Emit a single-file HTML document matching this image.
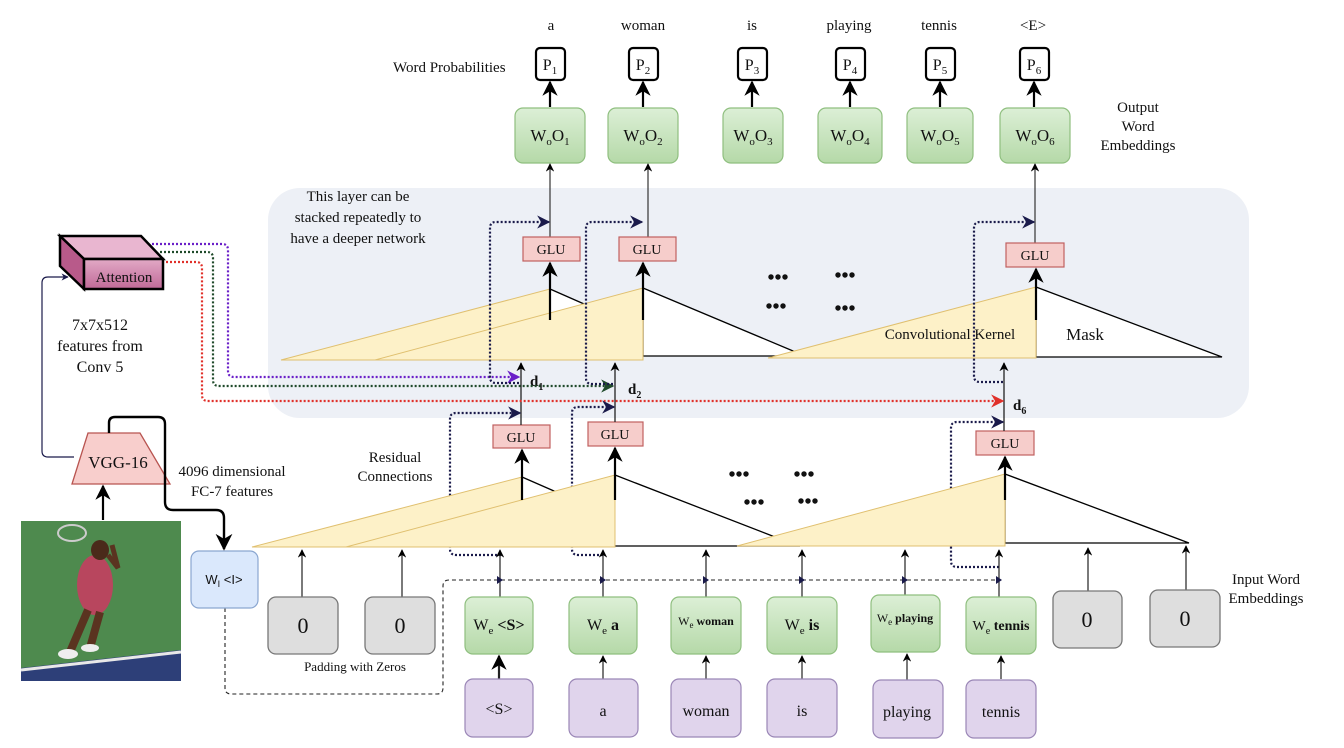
<!DOCTYPE html>
<html><head><meta charset="utf-8"><style>
html,body{margin:0;padding:0;background:#fff}
svg{display:block}
text{font-family:"Liberation Serif",serif;fill:#111}
</style></head><body>
<svg width="1344" height="748" viewBox="0 0 1344 748" xmlns="http://www.w3.org/2000/svg">
<defs>
<marker id="ab" viewBox="0 0 10 10" refX="9" refY="5" markerWidth="7" markerHeight="7" orient="auto"><path d="M0,0 L10,5 L0,10 L3,5 z" fill="#000"/></marker>
<marker id="an" viewBox="0 0 10 10" refX="9" refY="5" markerWidth="6" markerHeight="6" orient="auto"><path d="M0,0 L10,5 L0,10 L3,5 z" fill="#1a1a4a"/></marker>
<marker id="ap" viewBox="0 0 10 10" refX="9" refY="5" markerWidth="6" markerHeight="6" orient="auto"><path d="M0,0 L10,5 L0,10 L3,5 z" fill="#6a1fc8"/></marker>
<marker id="ag" viewBox="0 0 10 10" refX="9" refY="5" markerWidth="6" markerHeight="6" orient="auto"><path d="M0,0 L10,5 L0,10 L3,5 z" fill="#1f4a2a"/></marker>
<marker id="ar" viewBox="0 0 10 10" refX="9" refY="5" markerWidth="6" markerHeight="6" orient="auto"><path d="M0,0 L10,5 L0,10 L3,5 z" fill="#e0302a"/></marker>
<linearGradient id="gg" x1="0" y1="0" x2="0" y2="1"><stop offset="0" stop-color="#dcefd6"/><stop offset="1" stop-color="#b5d9a8"/></linearGradient>
<linearGradient id="gm" x1="0" y1="0" x2="0" y2="1"><stop offset="0" stop-color="#e2a9c6"/><stop offset="1" stop-color="#c06a98"/></linearGradient>
</defs>

<rect x="268" y="188" width="981" height="230" rx="32" fill="#edf0f6"/>

<g font-size="15" text-anchor="middle">
<text x="551" y="30">a</text><text x="643" y="30">woman</text><text x="752" y="30">is</text>
<text x="849" y="30">playing</text><text x="939" y="30">tennis</text><text x="1033" y="30">&lt;E&gt;</text>
</g>
<text x="393" y="72" font-size="15">Word Probabilities</text>
<g fill="#fff" stroke="#000" stroke-width="2.2">
<rect x="536" y="48" width="29" height="32" rx="4"/><rect x="629" y="48" width="29" height="32" rx="4"/>
<rect x="738" y="48" width="29" height="32" rx="4"/><rect x="836" y="48" width="29" height="32" rx="4"/>
<rect x="926" y="48" width="29" height="32" rx="4"/><rect x="1020" y="48" width="29" height="32" rx="4"/>
</g>
<g font-size="16" text-anchor="middle">
<text x="550" y="70">P<tspan font-size="11" dy="4">1</tspan></text><text x="643" y="70">P<tspan font-size="11" dy="4">2</tspan></text>
<text x="752" y="70">P<tspan font-size="11" dy="4">3</tspan></text><text x="850" y="70">P<tspan font-size="11" dy="4">4</tspan></text>
<text x="940" y="70">P<tspan font-size="11" dy="4">5</tspan></text><text x="1034" y="70">P<tspan font-size="11" dy="4">6</tspan></text>
</g>
<g stroke="#000" stroke-width="2.2" marker-end="url(#ab)">
<line x1="550" y1="107" x2="550" y2="82"/><line x1="643" y1="107" x2="643" y2="82"/><line x1="752" y1="107" x2="752" y2="82"/>
<line x1="850" y1="107" x2="850" y2="82"/><line x1="940" y1="107" x2="940" y2="82"/><line x1="1034" y1="107" x2="1034" y2="82"/>
</g>
<g fill="url(#gg)" stroke="#8fbf7f" stroke-width="1.2">
<rect x="515" y="108" width="70" height="55" rx="8"/><rect x="608" y="108" width="70" height="55" rx="8"/>
<rect x="723" y="108" width="60" height="55" rx="8"/><rect x="818" y="108" width="64" height="55" rx="8"/>
<rect x="907" y="108" width="66" height="55" rx="8"/><rect x="1000" y="108" width="70" height="55" rx="8"/>
</g>
<g font-size="17" text-anchor="middle">
<text x="550" y="141">W<tspan font-size="11" dy="4">o</tspan><tspan dy="-4">O</tspan><tspan font-size="11" dy="4">1</tspan></text>
<text x="643" y="141">W<tspan font-size="11" dy="4">o</tspan><tspan dy="-4">O</tspan><tspan font-size="11" dy="4">2</tspan></text>
<text x="753" y="141">W<tspan font-size="11" dy="4">o</tspan><tspan dy="-4">O</tspan><tspan font-size="11" dy="4">3</tspan></text>
<text x="850" y="141">W<tspan font-size="11" dy="4">o</tspan><tspan dy="-4">O</tspan><tspan font-size="11" dy="4">4</tspan></text>
<text x="940" y="141">W<tspan font-size="11" dy="4">o</tspan><tspan dy="-4">O</tspan><tspan font-size="11" dy="4">5</tspan></text>
<text x="1035" y="141">W<tspan font-size="11" dy="4">o</tspan><tspan dy="-4">O</tspan><tspan font-size="11" dy="4">6</tspan></text>
</g>
<g font-size="15" text-anchor="middle"><text x="1138" y="112">Output</text><text x="1138" y="131">Word</text><text x="1138" y="150">Embeddings</text></g>

<g font-size="15" text-anchor="middle"><text x="358" y="201">This layer can be</text><text x="358" y="222">stacked repeatedly to</text><text x="358" y="243">have a deeper network</text></g>

<g stroke="#333" stroke-width="1.2" marker-end="url(#ab)">
<line x1="550" y1="237" x2="550" y2="164"/><line x1="648" y1="237" x2="648" y2="164"/><line x1="1035" y1="243" x2="1035" y2="164"/>
</g>

<polygon points="550,289 600,311 600,360 550,360" fill="#fff"/>
<line x1="550" y1="289" x2="600" y2="311" stroke="#000" stroke-width="1.3"/>
<polygon points="281,360 550,289 550,360" fill="#fdf1c8" stroke="#e0c070" stroke-width="1"/>
<polygon points="643,288 805,356 643,356" fill="#fff" stroke="#000" stroke-width="1.3"/>
<polygon points="375,360 643,288 643,360" fill="#fdf1c8" stroke="#e0c070" stroke-width="1"/>
<polygon points="1036,287 1222,357 1036,357" fill="#fff" stroke="#000" stroke-width="1.3"/>
<polygon points="768,358 1036,287 1036,358" fill="#fdf1c8" stroke="#e0c070" stroke-width="1"/>
<g stroke="#000" stroke-width="2.2" marker-end="url(#ab)">
<line x1="550" y1="320" x2="550" y2="263"/><line x1="643" y1="320" x2="643" y2="263"/><line x1="1036" y1="320" x2="1036" y2="269"/>
</g>
<text x="950" y="339" font-size="15" text-anchor="middle">Convolutional Kernel</text>
<text x="1085" y="340" font-size="17" text-anchor="middle">Mask</text>

<g fill="#f6cdcb" stroke="#c06060" stroke-width="1.2">
<rect x="523" y="237" width="57" height="24"/><rect x="619" y="237" width="57" height="24"/><rect x="1006" y="243" width="58" height="24"/>
<rect x="493" y="425" width="57" height="23"/><rect x="588" y="422" width="55" height="24"/><rect x="976" y="431" width="58" height="24"/>
</g>
<g font-size="14" text-anchor="middle">
<text x="551" y="254">GLU</text><text x="647" y="254">GLU</text><text x="1035" y="260">GLU</text>
<text x="521" y="442">GLU</text><text x="615" y="439">GLU</text><text x="1005" y="448">GLU</text>
</g>

<g font-size="20" font-weight="bold" text-anchor="middle">
<text x="778" y="284">•••</text><text x="845" y="282">•••</text><text x="776" y="313">•••</text><text x="845" y="315">•••</text>
<text x="739" y="481">•••</text><text x="804" y="481">•••</text><text x="754" y="509">•••</text><text x="808" y="508">•••</text>
</g>

<g stroke="#222" stroke-width="1.3" marker-end="url(#ab)">
<line x1="521" y1="425" x2="521" y2="363"/><line x1="615" y1="422" x2="615" y2="363"/><line x1="1004" y1="431" x2="1004" y2="363"/>
</g>
<g font-size="15" font-weight="bold">
<text x="530" y="386">d<tspan font-size="10" dy="4">1</tspan></text>
<text x="628" y="394">d<tspan font-size="10" dy="4">2</tspan></text>
<text x="1013" y="410">d<tspan font-size="10" dy="4">6</tspan></text>
</g>

<path d="M152,244 H222 Q228,244 228,250 V371 Q228,377 234,377 H519" fill="none" stroke="#6a1fc8" stroke-width="2.2" stroke-dasharray="2,2" marker-end="url(#ap)"/>
<path d="M160,252 H207 Q213,252 213,258 V380 Q213,386 219,386 H613" fill="none" stroke="#1f4a2a" stroke-width="2.2" stroke-dasharray="2,2" marker-end="url(#ag)"/>
<path d="M162,262 H196 Q202,262 202,268 V395 Q202,401 208,401 H1003" fill="none" stroke="#e0302a" stroke-width="2.2" stroke-dasharray="2,2" marker-end="url(#ar)"/>

<g fill="none" stroke="#1a1a4a" stroke-width="2.2" stroke-dasharray="2,2" marker-end="url(#an)">
<path d="M519,383 H496 Q490,383 490,377 V228 Q490,222 496,222 H549"/>
<path d="M613,384 H592 Q586,384 586,378 V228 Q586,222 592,222 H642"/>
<path d="M1003,382 H980 Q974,382 974,376 V228 Q974,222 980,222 H1034"/>
<path d="M501,555 H456 Q450,555 450,549 V419 Q450,413 456,413 H520"/>
<path d="M603,555 H578 Q572,555 572,549 V413 Q572,407 578,407 H614"/>
<path d="M999,567 H957 Q951,567 951,561 V428 Q951,422 957,422 H1003"/>
</g>

<polygon points="522,477 570,498 570,547 522,547" fill="#fff"/>
<line x1="522" y1="477" x2="570" y2="498" stroke="#000" stroke-width="1.3"/>
<polygon points="252,547 522,477 522,547" fill="#fdf1c8" stroke="#e0c070" stroke-width="1"/>
<polygon points="615,475 775,537 800,546 615,546" fill="#fff" stroke="none"/>
<polyline points="615,475 775,537" fill="none" stroke="#000" stroke-width="1.3"/>
<line x1="615" y1="546" x2="800" y2="546" stroke="#000" stroke-width="1.3"/>
<polygon points="346,547 615,475 615,547" fill="#fdf1c8" stroke="#e0c070" stroke-width="1"/>
<polygon points="1005,474 1189,543 1005,543" fill="#fff" stroke="#000" stroke-width="1.3"/>
<polygon points="737,546 1005,474 1005,546" fill="#fdf1c8" stroke="#e0c070" stroke-width="1"/>
<g stroke="#000" stroke-width="2.2" marker-end="url(#ab)">
<line x1="522" y1="500" x2="522" y2="450"/><line x1="615" y1="500" x2="615" y2="448"/><line x1="1005" y1="500" x2="1005" y2="457"/>
</g>

<g font-size="15" text-anchor="middle"><text x="395" y="462">Residual</text><text x="395" y="481">Connections</text></g>
<g font-size="15" text-anchor="middle"><text x="232" y="476">4096 dimensional</text><text x="232" y="496">FC-7 features</text></g>
<g font-size="16" text-anchor="middle"><text x="100" y="330">7x7x512</text><text x="100" y="351">features from</text><text x="100" y="372">Conv 5</text></g>

<g stroke="#222" stroke-width="1.2" marker-end="url(#ab)">
<line x1="302" y1="597" x2="302" y2="550"/><line x1="402" y1="597" x2="402" y2="550"/><line x1="500" y1="597" x2="500" y2="550"/>
<line x1="603" y1="597" x2="603" y2="550"/><line x1="706" y1="597" x2="706" y2="550"/><line x1="802" y1="597" x2="802" y2="550"/>
<line x1="905" y1="597" x2="905" y2="550"/><line x1="999" y1="597" x2="999" y2="550"/><line x1="1088" y1="592" x2="1088" y2="548"/>
<line x1="1186" y1="590" x2="1186" y2="546"/>
</g>

<path d="M225,608 V688 Q225,694 231,694 H437 Q443,694 443,688 V586 Q443,580 449,580 H1000" fill="none" stroke="#222" stroke-width="1.1" stroke-dasharray="4,3"/>
<g stroke="none" fill="#1a1a4a">
<path d="M497,576 L503,580 L497,584z"/><path d="M600,576 L606,580 L600,584z"/><path d="M703,576 L709,580 L703,584z"/>
<path d="M799,576 L805,580 L799,584z"/><path d="M902,576 L908,580 L902,584z"/><path d="M996,576 L1002,580 L996,584z"/>
</g>

<g fill="#dedede" stroke="#777" stroke-width="1.3">
<rect x="268" y="597" width="70" height="57" rx="8"/><rect x="365" y="597" width="70" height="57" rx="8"/>
<rect x="1053" y="591" width="69" height="57" rx="8"/><rect x="1150" y="590" width="70" height="57" rx="8"/>
</g>
<g font-size="22" text-anchor="middle"><text x="303" y="633">0</text><text x="400" y="633">0</text><text x="1087" y="627">0</text><text x="1185" y="626">0</text></g>
<g fill="url(#gg)" stroke="#8fbf7f" stroke-width="1.2">
<rect x="465" y="597" width="68" height="57" rx="8"/><rect x="569" y="597" width="68" height="57" rx="8"/>
<rect x="671" y="597" width="70" height="57" rx="8"/><rect x="767" y="597" width="70" height="57" rx="8"/>
<rect x="871" y="595" width="69" height="57" rx="8"/><rect x="966" y="597" width="70" height="57" rx="8"/>
</g>
<g text-anchor="middle">
<text x="499" y="630" font-size="16">W<tspan font-size="11" dy="4">e</tspan><tspan dy="-4" font-weight="bold"> &lt;S&gt;</tspan></text>
<text x="603" y="630" font-size="16">W<tspan font-size="11" dy="4">e</tspan><tspan dy="-4" font-weight="bold"> a</tspan></text>
<text x="706" y="625" font-size="12">W<tspan font-size="9" dy="3">e</tspan><tspan dy="-3" font-weight="bold"> woman</tspan></text>
<text x="802" y="630" font-size="16">W<tspan font-size="11" dy="4">e</tspan><tspan dy="-4" font-weight="bold"> is</tspan></text>
<text x="905" y="622" font-size="12">W<tspan font-size="9" dy="3">e</tspan><tspan dy="-3" font-weight="bold"> playing</tspan></text>
<text x="1001" y="630" font-size="14">W<tspan font-size="10" dy="4">e</tspan><tspan dy="-4" font-weight="bold"> tennis</tspan></text>
</g>
<text x="355" y="671" font-size="13" text-anchor="middle">Padding with Zeros</text>
<g font-size="15" text-anchor="middle"><text x="1266" y="584">Input Word</text><text x="1266" y="603">Embeddings</text></g>

<g stroke="#222" stroke-width="1.2" marker-end="url(#ab)">
<line x1="499" y1="679" x2="499" y2="656" stroke-width="2.2"/><line x1="603" y1="679" x2="603" y2="656"/><line x1="706" y1="679" x2="706" y2="656"/>
<line x1="802" y1="679" x2="802" y2="656"/><line x1="907" y1="680" x2="907" y2="654"/><line x1="1001" y1="679" x2="1001" y2="656"/>
</g>
<g fill="#e0d4ec" stroke="#9a86b6" stroke-width="1.2">
<rect x="465" y="679" width="68" height="58" rx="8"/><rect x="569" y="679" width="69" height="58" rx="8"/>
<rect x="671" y="679" width="70" height="58" rx="8"/><rect x="767" y="679" width="70" height="58" rx="8"/>
<rect x="873" y="680" width="70" height="58" rx="8"/><rect x="966" y="680" width="70" height="58" rx="8"/>
</g>
<g font-size="16" text-anchor="middle">
<text x="499" y="714">&lt;S&gt;</text><text x="603" y="716">a</text><text x="706" y="716">woman</text>
<text x="802" y="716">is</text><text x="907" y="717">playing</text><text x="1001" y="717">tennis</text>
</g>

<rect x="191" y="551" width="67" height="57" rx="8" fill="#dae8fc" stroke="#8aa6d0" stroke-width="1.2"/>
<text x="224" y="584" font-size="13" text-anchor="middle" style="font-family:'Liberation Sans',sans-serif">W<tspan font-size="9" dy="3">I</tspan><tspan dy="-3"> &lt;I&gt;</tspan></text>

<rect x="21" y="521" width="160" height="160" fill="#4e8a4e"/>
<path d="M21,668 L181,650 L181,681 L21,681z" fill="#2d3f78"/>
<path d="M21,670 L181,652" stroke="#e8e8e8" stroke-width="3"/>
<ellipse cx="95" cy="585" rx="18" ry="30" fill="#b8465e"/>
<path d="M88,610 L70,652 M100,612 L90,648" stroke="#5a3320" stroke-width="8"/>
<ellipse cx="68" cy="654" rx="10" ry="5" fill="#eee"/><ellipse cx="90" cy="648" rx="9" ry="4" fill="#eee"/>
<ellipse cx="100" cy="550" rx="9" ry="10" fill="#4a2a1a"/>
<ellipse cx="72" cy="533" rx="14" ry="8" fill="none" stroke="#ccc" stroke-width="2"/>
<path d="M108,555 L118,568 L112,545" stroke="#5a3320" stroke-width="5" fill="none"/>

<polygon points="88,433 140,433 170,484 72,484" fill="#f8cecc" stroke="#b85450" stroke-width="1.3"/>
<text x="118" y="468" font-size="17" text-anchor="middle">VGG-16</text>
<line x1="103" y1="520" x2="103" y2="486" stroke="#000" stroke-width="2.2" marker-end="url(#ab)"/>
<path d="M109,433 V423 Q109,417 115,417 H158 Q165,417 165,424 V502 Q165,510 173,510 H216 Q224,510 224,518 V549" fill="none" stroke="#000" stroke-width="2.4" marker-end="url(#ab)"/>
<path d="M74,457 H48 Q42,457 42,451 V283 Q42,277 48,277 H68" fill="none" stroke="#1a1a4a" stroke-width="1.2" marker-end="url(#an)"/>

<polygon points="60,236 141,236 163,259 84,259" fill="#e9b6d0" stroke="#000" stroke-width="2.5"/>
<polygon points="60,236 84,259 84,289 60,266" fill="#b85a8a" stroke="#000" stroke-width="2.5"/>
<rect x="84" y="259" width="79" height="30" fill="url(#gm)" stroke="#000" stroke-width="2.5"/>
<text x="124" y="282" font-size="15" text-anchor="middle">Attention</text>
</svg>
</body></html>
